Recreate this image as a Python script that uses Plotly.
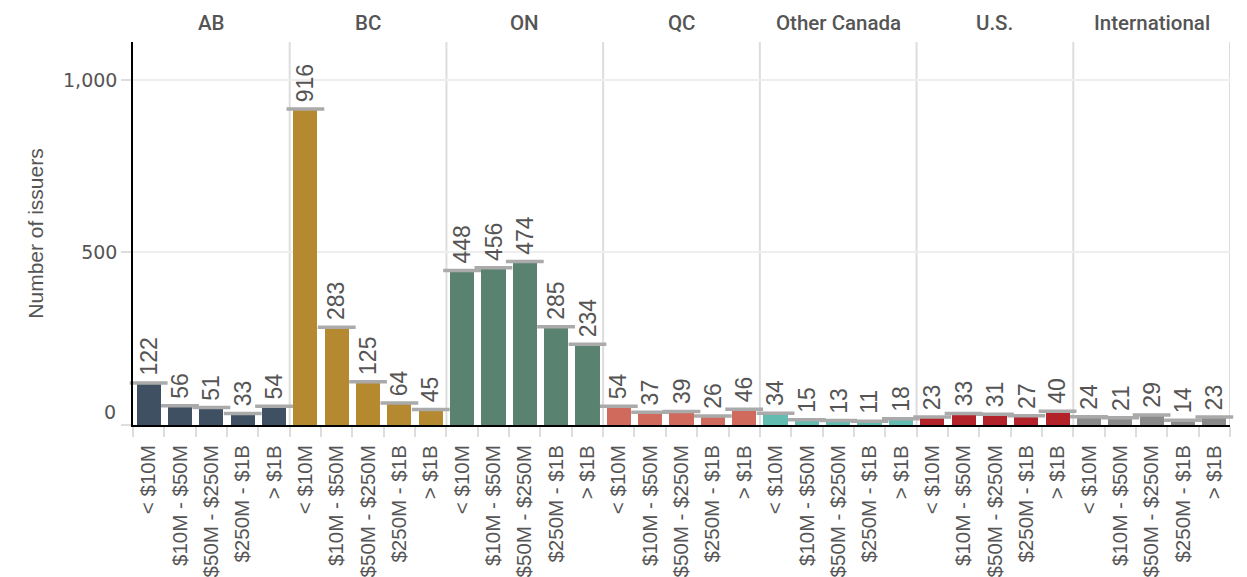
import plotly.graph_objects as go

regions = ["AB", "BC", "ON", "QC", "Other Canada", "U.S.", "International"]
sizes = ["< $10M", "$10M - $50M", "$50M - $250M", "$250M - $1B", "> $1B"]
ab = [122, 56, 51, 33, 54]
bc = [916, 283, 125, 64, 45]
on = [448, 456, 474, 285, 234]
qc = [54, 37, 39, 26, 46]
other_canada = [34, 15, 13, 11, 18]
us = [23, 33, 31, 27, 40]
international = [24, 21, 29, 14, 23]
colors = ["#3f5063", "#b5892f", "#5a8270", "#d06a5c", "#62bdb0", "#b22228", "#8a8a8a"]

series = [ab, bc, on, qc, other_canada, us, international]
n = len(sizes)

fig = go.Figure()
sans = "Liberation Sans, Arial, sans-serif"
value_font = dict(family=sans, size=23, color="#555555")
xtick_font = dict(family=sans, size=20.5, color="#555555")
ytick_font = dict(family="DejaVu Sans, sans-serif", size=19, color="#555555")
title_font = dict(family=sans, size=21, color="#555555")

all_x, all_y, all_text, tickvals, ticktext = [], [], [], [], []
for gi, (reg, vals, col) in enumerate(zip(regions, series, colors)):
    xs = [gi * n + i for i in range(n)]
    fig.add_trace(go.Bar(
        x=xs, y=vals, marker=dict(color=col, line=dict(width=0)), width=0.77,
        showlegend=False, hoverinfo="skip",
    ))
    all_x += xs
    all_y += vals
    all_text += [str(v) for v in vals]
    tickvals += xs
    ticktext += sizes

# gray caps on top of bars
fig.add_trace(go.Scatter(
    x=all_x, y=all_y, mode="markers",
    marker=dict(symbol="line-ew", size=27, line=dict(width=3.5, color="#aaaaaa")),
    showlegend=False, hoverinfo="skip", cliponaxis=False,
))

annotations = []
for x, y, t in zip(all_x, all_y, all_text):
    annotations.append(dict(
        x=x, y=y, xref="x", yref="y", text=t, textangle=-90, showarrow=False,
        yanchor="bottom", xanchor="center", yshift=5, font=value_font,
    ))

for gi, reg in enumerate(regions):
    annotations.append(dict(
        x=gi * n + (n - 1) / 2, y=1, xref="x", yref="paper", yanchor="bottom",
        yshift=5, text=reg, showarrow=False,
        font=dict(family="Roboto, sans-serif", size=20.5, color="#555555", weight=500),
    ))

# "0" label placed just above the baseline
annotations.append(dict(
    x=0, y=0, xref="paper", yref="y", xanchor="right", yanchor="middle",
    xshift=-15, yshift=13, text="0", showarrow=False, font=ytick_font,
))

shapes = []
for gi in range(1, len(regions) + 1):
    shapes.append(dict(
        type="line", xref="x", yref="paper", x0=gi * n - 0.5, x1=gi * n - 0.5,
        y0=0, y1=1, line=dict(color="#dddddd", width=2), layer="below",
    ))

fig.update_layout(
    width=1247, height=577,
    margin=dict(l=133, r=17, t=42, b=152, autoexpand=False),
    plot_bgcolor="white", paper_bgcolor="white",
    barmode="overlay", bargap=0,
    annotations=annotations, shapes=shapes,
    font=xtick_font,
)
fig.update_xaxes(
    range=[-0.5, len(regions) * n - 0.5], automargin=False,
    tickmode="array", tickvals=tickvals, ticktext=ticktext, tickangle=-90,
    ticks="", showgrid=False, zeroline=False,
    showline=True, linecolor="black", linewidth=2,
    tickfont=xtick_font, ticklabelstandoff=10,
    minor=dict(tickmode="linear", tick0=-0.5, dtick=1, ticks="outside",
               ticklen=10, tickwidth=2, tickcolor="#dddddd", showgrid=False),
)
fig.update_yaxes(
    range=[0, 1110], automargin=False,
    tickmode="array", tickvals=[0, 500, 1000], ticktext=["", "500", "1,000"],
    ticks="outside", ticklen=10, tickcolor="#dddddd", tickwidth=2,
    showgrid=True, gridcolor="#eeeeee", gridwidth=2, zeroline=False,
    showline=True, linecolor="black", linewidth=1.5,
    tickfont=ytick_font,
    title=dict(text="Number of issuers", font=title_font, standoff=14),
)

fig.write_html("out.html")
